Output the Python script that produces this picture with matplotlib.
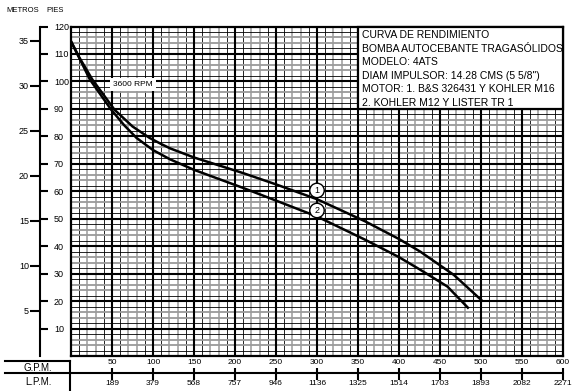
import matplotlib.pyplot as plt
from matplotlib import font_manager
from matplotlib.patches import Rectangle

# scales
gpm_ticks = [50, 100, 150, 200, 250, 300, 350, 400, 450, 500, 550, 600]
lpm_labels = ['189', '379', '568', '757', '946', '1136', '1325', '1514', '1703', '1893', '2082', '2271']
pies_ticks = [10, 20, 30, 40, 50, 60, 70, 80, 90, 100, 110, 120]
metros_ticks = [5, 10, 15, 20, 25, 30, 35]

# curves (GPM, feet)
curva1_gpm = [0, 10, 26, 53, 75, 96, 110, 121, 150, 210, 250, 300, 359, 400, 426, 467, 501]
curva1_pies = [114.6, 108.8, 100.7, 89.7, 83.6, 79.4, 77.2, 75.6, 72.3, 66.6, 62.5, 57.1, 49.0, 42.6, 38.0, 29.5, 20.2]
curva2_gpm = [0, 10, 23, 49, 65, 80, 100, 121, 150, 210, 250, 300, 359, 400, 426, 459, 484]
curva2_pies = [114.6, 108.6, 100.7, 89.7, 84.0, 79.4, 75.0, 71.6, 67.8, 61.2, 56.6, 50.8, 42.3, 36.0, 31.4, 25.3, 17.6]

info_lines = ['CURVA DE RENDIMIENTO',
              'BOMBA AUTOCEBANTE TRAGASÓLIDOS',
              'MODELO: 4ATS',
              'DIAM IMPULSOR: 14.28 CMS (5 5/8")',
              'MOTOR: 1. B&S 326431 Y KOHLER M16',
              '2. KOHLER M12 Y LISTER TR 1']

names = {f.name for f in font_manager.fontManager.ttflist}
if 'Liberation Sans Narrow' in names:
    base = 'Liberation Sans Narrow'
    box_fs = 8.5
else:
    base = 'Liberation Sans'
    box_fs = 7.5
plt.rcParams['font.family'] = [base, 'DejaVu Sans']

W, H = 575, 391
fig = plt.figure(figsize=(5.75, 3.91), dpi=100)

def px(x0, y0, x1, y1):
    # pixel box -> figure fraction
    return [x0 / W, 1 - y1 / H, (x1 - x0) / W, (y1 - y0) / H]

# main grid
ax = fig.add_axes(px(71, 26.5, 563, 356))
ax.set_xlim(0, 600)
ax.set_ylim(0, 120)
ax.set_xticks([])
ax.set_yticks([])
for s in ax.spines.values():
    s.set_linewidth(1.6)

for g in range(10, 600, 10):
    if g % 50 == 0:
        ax.axvline(g, color='black', lw=1.5, zorder=2)
    elif g % 50 in (20, 30):
        ax.axvline(g, color='#9a9a9a', lw=1.1, zorder=1)
    else:
        ax.axvline(g, color='black', lw=0.6, zorder=1)
for p in range(2, 120, 2):
    if p % 10 == 0:
        ax.axhline(p, color='black', lw=1.5, zorder=2)
    elif p % 10 in (4, 6):
        ax.axhline(p, color='#9a9a9a', lw=1.3, zorder=1)
    else:
        ax.axhline(p, color='black', lw=0.6, zorder=1)

ax.plot(curva1_gpm, curva1_pies, color='black', lw=1.8, zorder=4, solid_joinstyle='round')
ax.plot(curva2_gpm, curva2_pies, color='black', lw=1.8, zorder=4, solid_joinstyle='round')

ax.text(300, 60.3, '1', ha='center', va='center', fontsize=6.5, zorder=5,
        bbox=dict(boxstyle='circle,pad=0.3', fc='white', ec='black', lw=1))
ax.text(300, 53.0, '2', ha='center', va='center', fontsize=6.5, zorder=5,
        bbox=dict(boxstyle='circle,pad=0.3', fc='white', ec='black', lw=1))
ax.text(75.5, 98.8, '3600 RPM', ha='center', va='center', fontsize=6, zorder=5,
        bbox=dict(boxstyle='square,pad=0.35', fc='white', ec='none'))

ax.add_patch(Rectangle((350, 90), 250, 30, fc='white', ec='black', lw=1.6, zorder=6, clip_on=False))

# left scales: metros / pies
ax_m = fig.add_axes(px(40, 26.5, 40.5, 356))
ax_m.set_ylim(0, 120 / 3.2808)
ax_m.set_yticks(metros_ticks)
ax_m.set_xticks([])
ax_m.tick_params(axis='y', direction='out', length=7, width=1.5, labelsize=6.5, pad=1)
for k in ('top', 'right', 'bottom'):
    ax_m.spines[k].set_visible(False)
ax_m.spines['left'].set_linewidth(1.5)
ax_m.patch.set_visible(False)

ax_p = fig.add_axes(px(39.5, 26.5, 40, 356))
ax_p.set_ylim(0, 120)
ax_p.set_yticks(pies_ticks)
ax_p.set_xticks([])
ax_p.yaxis.tick_right()
ax_p.tick_params(axis='y', direction='out', length=6, width=1.5, labelsize=6.5, pad=4)
for s in ax_p.spines.values():
    s.set_visible(False)
ax_p.patch.set_visible(False)

# bottom scale G.P.M. / L.P.M.
ax_b = fig.add_axes(px(71, 373, 563, 373.5))
ax_b.set_xlim(0, 600)
ax_b.set_yticks([])
ax_b.set_xticks(gpm_ticks, labels=lpm_labels)
ax_b.tick_params(axis='x', direction='inout', length=8, width=1.5, labelsize=6, pad=1)
for s in ax_b.spines.values():
    s.set_visible(False)
ax_b.patch.set_visible(False)
sec = ax_b.secondary_xaxis('top')
sec.set_xticks(gpm_ticks, labels=[str(g) for g in gpm_ticks])
sec.tick_params(length=0, labelsize=6, pad=5)
sec.spines['top'].set_visible(False)

# overlay for free text and table lines
ov = fig.add_axes([0, 0, 1, 1])
ov.set_xlim(0, W)
ov.set_ylim(H, 0)
ov.axis('off')
ov.plot([5, 70], [361, 361], color='black', lw=1.5)
ov.plot([5, 563], [373.3, 373.3], color='black', lw=1.5)
ov.plot([70, 70], [361, 391], color='black', lw=1.5)
ov.text(38, 368, 'G.P.M.', ha='center', va='center', fontsize=7)
ov.text(38, 382, 'L.P.M.', ha='center', va='center', fontsize=7)
ov.text(23, 11, 'METROS', ha='center', va='center', fontsize=5.5)
ov.text(55, 10, 'PIES', ha='center', va='center', fontsize=5.5)
for i, line in enumerate(info_lines):
    ov.text(362, 35.5 + 13.4 * i, line, ha='left', va='center', fontsize=box_fs, zorder=7)

fig.savefig('out.png', dpi=100)
